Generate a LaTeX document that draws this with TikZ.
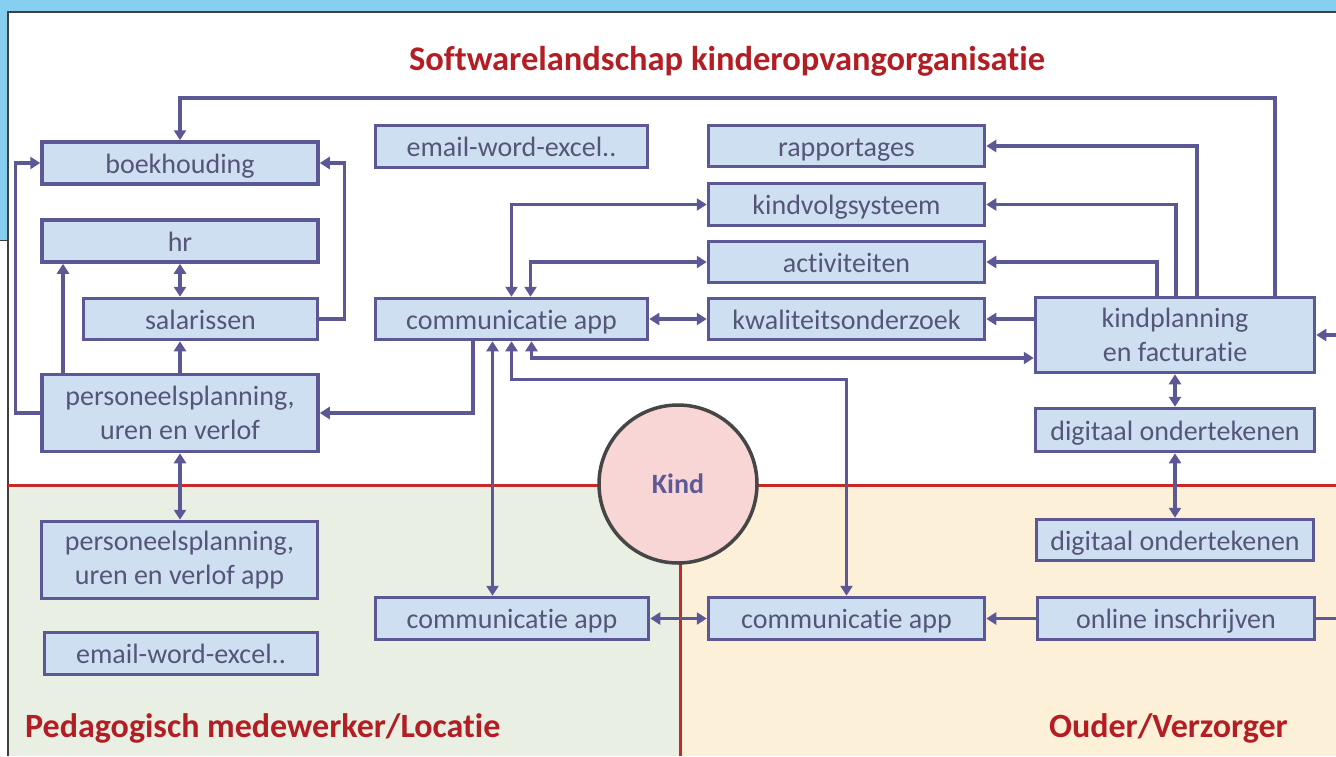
\documentclass[tikz,border=0pt]{standalone}
\usepackage{fontspec}
\setmainfont[Ligatures=NoCommon]{Carlito}
\usetikzlibrary{arrows.meta}
\definecolor{boxc}{RGB}{92,88,150}
\definecolor{boxf}{RGB}{207,223,242}
\definecolor{txtc}{RGB}{85,85,120}
\definecolor{titlered}{RGB}{178,30,36}
\definecolor{redline}{RGB}{200,40,40}
\definecolor{greenbg}{RGB}{233,240,227}
\definecolor{beigebg}{RGB}{253,240,216}
\definecolor{skyb}{RGB}{135,207,240}
\definecolor{pinkk}{RGB}{248,214,214}
\definecolor{circc}{RGB}{70,70,70}
\definecolor{kindc}{RGB}{95,90,150}
\tikzset{
  swbox/.style={draw=boxc, fill=boxf, line width=3.5pt, text=txtc, inner sep=0pt,
    align=center, font=\fontsize{28}{34}\selectfont},
  oneline/.style={swbox, text height=24pt, text depth=4pt},
  conn/.style={draw=boxc, line width=3.5pt, -{Triangle[length=10pt,width=12pt]}},
  dconn/.style={draw=boxc, line width=3.5pt, {Triangle[length=10pt,width=12pt]}-{Triangle[length=10pt,width=12pt]}},
  redl/.style={draw=redline, line width=3pt},
  lbl/.style={text=titlered, font=\bfseries\fontsize{34}{40}\selectfont, inner sep=0pt}
}
\begin{document}
\begin{tikzpicture}[x=1pt,y=-1pt]
\useasboundingbox (0,0) rectangle (1336,756);
\clip (0,0) rectangle (1336,756);
% backgrounds
\fill[skyb] (0,0) rectangle (1336,12);
\fill[skyb] (0,0) rectangle (8,240);
\fill[white] (8,12) rectangle (1336,485);
\fill[greenbg] (8,485) rectangle (680,756);
\fill[beigebg] (680,485) rectangle (1336,756);
\draw[black!75, line width=1.2pt] (8,756) -- (8,12) -- (1336,12);
\draw[black!75, line width=1pt] (0,240) -- (8,240);
\draw[redl] (8,485) -- (1336,485);
\draw[redl] (680,485) -- (680,756);

% title and area labels
\node[lbl, font=\bfseries\fontsize{34.5}{40}\selectfont] (title) at (727,61) {Softwarelandschap kinderopvangorganisatie};
\node[lbl, anchor=west] (pedlbl) at (25,728) {Pedagogisch medewerker/Locatie};
\node[lbl, anchor=east] (oudlbl) at (1288,728) {Ouder/Verzorger};

% boxes
\node[oneline, minimum width=276pt, minimum height=42pt] (boek) at (180,163) {boekhouding};
\node[oneline, minimum width=276pt, minimum height=42pt] (hr) at (180,241) {hr};
\node[oneline, minimum width=234pt, minimum height=41pt] (sal) at (200.5,319) {salarissen};
\node[swbox, minimum width=276pt, minimum height=77pt] (pers) at (180,413) {personeelsplanning,\\uren en verlof};
\node[oneline, minimum width=272pt, minimum height=42pt] (email1) at (511.5,146.5) {email-word-excel..};
\node[oneline, minimum width=272pt, minimum height=41pt] (comm1) at (511.5,319) {communicatie app};
\node[oneline, minimum width=276pt, minimum height=41pt] (rapp) at (846.5,146) {rapportages};
\node[oneline, minimum width=276pt, minimum height=42pt] (kvs) at (846.5,204.5) {kindvolgsysteem};
\node[oneline, minimum width=276pt, minimum height=41pt] (act) at (846.5,262) {activiteiten};
\node[oneline, minimum width=276pt, minimum height=41pt] (kwal) at (846.5,319) {kwaliteitsonderzoek};
\node[swbox, minimum width=279pt, minimum height=75pt] (kpf) at (1175,335) {kindplanning\\en facturatie};
\node[oneline, minimum width=279pt, minimum height=43pt] (dig1) at (1175,430) {digitaal ondertekenen};
\node[oneline, minimum width=277pt, minimum height=41pt] (dig2) at (1175,540) {digitaal ondertekenen};
\node[oneline, minimum width=277pt, minimum height=42pt] (online) at (1176,618.5) {online inschrijven};
\node[oneline, minimum width=276pt, minimum height=42pt] (comm3) at (846.5,618.5) {communicatie app};
\node[oneline, minimum width=273pt, minimum height=42pt] (comm2) at (512,618.5) {communicatie app};
\node[swbox, minimum width=276pt, minimum height=77pt] (persapp) at (179.5,560) {personeelsplanning,\\uren en verlof app};
\node[oneline, minimum width=273pt, minimum height=42pt] (email2) at (181,653.5) {email-word-excel..};

% Kind circle
\node[circle, draw=circc, line width=3.5pt, fill=pinkk, minimum size=158pt, inner sep=0pt,
  text=kindc, font=\bfseries\fontsize{28}{30}\selectfont] (kind) at (678,484) {Kind};

% connectors from kindplanning
\draw[conn] ([xshift=100pt]kpf.north) -- ++(0,-198) -| (boek.north);
\draw[conn] ([xshift=22pt]kpf.north) |- (rapp.east);
\draw[conn] ([xshift=1pt]kpf.north) |- (kvs.east);
\draw[conn] ([xshift=-18pt]kpf.north) |- (act.east);
\draw[conn] (kpf.west |- kwal.east) -- (kwal.east);
\draw[dconn] ([xshift=20pt]comm1.south) |- ([yshift=-23pt]kpf.west);
\draw[dconn] (comm1.south) -- ++(0,38) -| (comm3.north);
\draw[dconn] ([xshift=-19pt]comm1.south) -- ([xshift=-19pt]comm1.south |- comm2.north);
\draw[conn] ([xshift=-38.5pt]comm1.south) |- (pers.east);
\draw[dconn] (comm1.north) |- (kvs.west);
\draw[dconn] ([xshift=19pt]comm1.north) |- (act.west);
\draw[dconn] (comm1.east) -- (kwal.west);
% left group
\draw[conn] (sal.east) -- ++(25,0) |- (boek.east);
\draw[conn] (pers.west) -- ++(-25,0) |- (boek.west);
\draw[conn] ([xshift=-117pt]pers.north) -- ([xshift=-117pt]pers.north |- hr.south);
\draw[conn] (pers.north) -- (pers.north |- sal.south);
\draw[dconn] (hr.south) -- (hr.south |- sal.north);
\draw[dconn] (pers.south) -- (pers.south |- persapp.north);
% right group
\draw[dconn] (kpf.south) -- (dig1.north);
\draw[dconn] (dig1.south) -- (dig1.south |- dig2.north);
\draw[dconn] (comm2.east) -- (comm3.west);
\draw[conn] (online.west) -- (comm3.east);
\draw[conn] (online.east) -- ++(40,0) |- (kpf.east);
\end{tikzpicture}
\end{document}
